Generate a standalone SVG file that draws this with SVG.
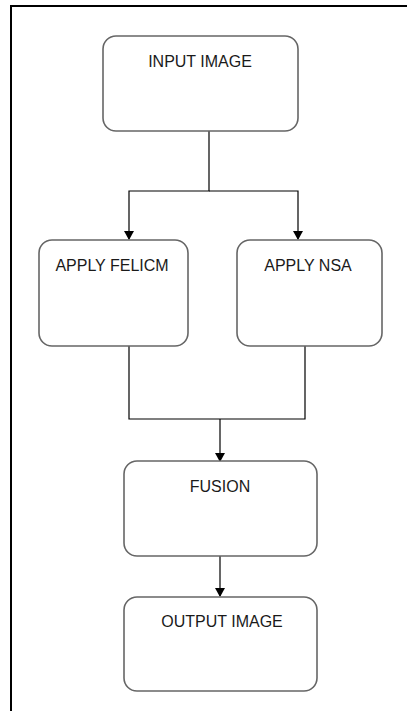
<svg xmlns="http://www.w3.org/2000/svg" width="407" height="711" viewBox="0 0 407 711">
<style>
.box{fill:#fff;stroke:#666;stroke-width:1.6}
.lbl{font-family:"Liberation Sans",Arial,sans-serif;font-size:16px;fill:#1a1a1a;text-anchor:middle}
.ln{fill:none;stroke:#000;stroke-width:1.2}
</style>
<defs>
<marker id="ah" markerWidth="10" markerHeight="10" refX="8" refY="5" orient="auto" markerUnits="userSpaceOnUse">
<path d="M0,0 L9,5 L0,10 Z" fill="#000"/>
</marker>
</defs>
<rect width="407" height="711" fill="#fff"/>
<path d="M11,715 V6 H412" fill="none" stroke="#000" stroke-width="2"/>
<g id="connectors">
<path class="ln" d="M209,131 V191 H129 V239" marker-end="url(#ah)"/>
<path class="ln" d="M209,191 H298 V239" marker-end="url(#ah)"/>
<path class="ln" d="M129,346 V419 H305 V346"/>
<path class="ln" d="M220,419 V461" marker-end="url(#ah)"/>
<path class="ln" d="M220,556 V596" marker-end="url(#ah)"/>
</g>
<g id="input-image">
<rect class="box" x="103" y="36" width="195" height="95" rx="13"/>
<text class="lbl" x="200" y="67">INPUT IMAGE</text>
</g>
<g id="apply-felicm">
<rect class="box" x="39" y="240" width="149" height="106" rx="13"/>
<text class="lbl" x="112" y="271">APPLY FELICM</text>
</g>
<g id="apply-nsa">
<rect class="box" x="237" y="240" width="145" height="106" rx="13"/>
<text class="lbl" x="308" y="271">APPLY NSA</text>
</g>
<g id="fusion">
<rect class="box" x="124" y="461" width="193" height="95" rx="13"/>
<text class="lbl" x="220" y="492">FUSION</text>
</g>
<g id="output-image">
<rect class="box" x="124" y="597" width="193" height="94" rx="13"/>
<text class="lbl" x="222" y="627">OUTPUT IMAGE</text>
</g>
</svg>
